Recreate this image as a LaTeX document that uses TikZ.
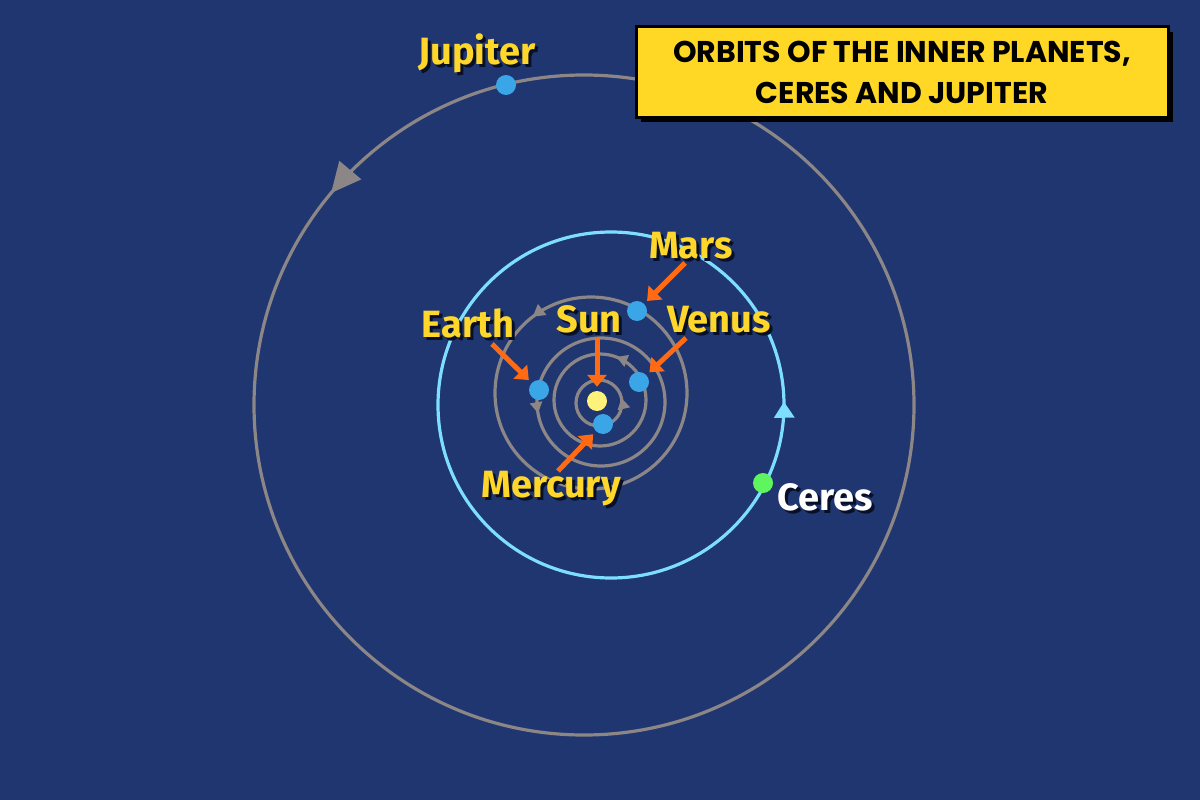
\documentclass[tikz,border=0pt]{standalone}
\usepackage{fontspec}
\setmainfont{Fira Sans}
\newfontfamily\titlefont{Poppins}
\usetikzlibrary{arrows.meta,decorations.markings,shadows}

\definecolor{spacebg}{RGB}{31,54,112}
\definecolor{orbitgray}{RGB}{140,134,134}
\definecolor{ceresorbit}{RGB}{125,222,255}
\definecolor{planetblue}{RGB}{58,166,232}
\definecolor{sunyellow}{RGB}{255,242,122}
\definecolor{ceresgreen}{RGB}{94,245,94}
\definecolor{labelyellow}{RGB}{255,214,42}
\definecolor{pointerorange}{RGB}{255,106,19}
\definecolor{txtshadow}{RGB}{8,16,40}
\definecolor{titleyellow}{RGB}{255,216,38}

\newcommand{\shadowtext}[1]{\rlap{\kern3pt\raisebox{-3pt}{\color{txtshadow}#1}}#1}

\begin{document}
\begin{tikzpicture}[
    x=1pt, y=-1pt,
    orbit/.style={draw=orbitgray, line width=3.2pt},
    orbitdir/.style n args={3}{postaction={decorate, decoration={markings,
        mark=at position #1 with {\arrowreversed{Triangle[length=#2pt, width=#3pt]}}}}},
    planet/.style={circle, fill=planetblue, minimum size=20pt, inner sep=0pt},
    planetlabel/.style={font=\fontsize{38}{44}\selectfont\bfseries, text=labelyellow, anchor=base, inner sep=0pt},
    pointer/.style={-{Triangle[length=12pt, width=19pt]}, line width=5pt, draw=pointerorange, shorten >=4pt},
    titlebox/.style={rectangle, fill=titleyellow, draw=black, line width=3pt, minimum width=532pt, minimum height=90pt,
        align=center, font=\titlefont\bfseries\fontsize{30}{41}\selectfont,
        drop shadow={shadow xshift=5pt, shadow yshift=-5pt, fill=black, opacity=1}}
]

% background
\useasboundingbox (0,0) rectangle (1200,800);
\fill[spacebg] (0,0) rectangle (1200,800);

% === Orbits ===
\draw[orbit, orbitdir={0.611}{30}{28}] (584,405) circle (330);
\draw[orbit, draw=ceresorbit, orbitdir={0.997}{16}{20}] (611,405) circle (173);
\draw[orbit, orbitdir={0.646}{12}{13}] (591,393) circle (96);
\draw[orbit, orbitdir={0.472}{11}{12}] (601,402) circle (64);
\draw[orbit, orbitdir={0.808}{11}{12}] (600,400) circle (46);
\draw[orbit, orbitdir={0.965}{11}{12}] (599,403) circle (23);

% === Bodies ===
\node[planet, fill=sunyellow] (sun) at (597,401) {};
\node[planet] (mercury) at (603,424) {};
\node[planet] (venus) at (639,382) {};
\node[planet] (earth) at (539,390) {};
\node[planet] (mars) at (637,311) {};
\node[planet, fill=ceresgreen] (ceres) at (763,483) {};
\node[planet] (jupiter) at (506,85) {};

% === Labels ===
\node[planetlabel] (jupiter-lbl) at (477,65) {\shadowtext{Jupiter}};
\node[planetlabel] (mars-lbl) at (691,258) {\shadowtext{Mars}};
\node[planetlabel] (sun-lbl) at (589,332) {\shadowtext{Sun}};
\node[planetlabel] (venus-lbl) at (719,332) {\shadowtext{Venus}};
\node[planetlabel] (earth-lbl) at (468,337) {\shadowtext{Earth}};
\node[planetlabel] (mercury-lbl) at (551,497) {\shadowtext{Mercury}};
\node[planetlabel, text=white] (ceres-lbl) at (825,510) {\shadowtext{Ceres}};

% === Pointers from labels to bodies ===
\coordinate (mars-tail) at (685,263);
\coordinate (sun-tail) at (597,337);
\coordinate (venus-tail) at (686,338);
\coordinate (earth-tail) at (492,344);
\coordinate (mercury-tail) at (558,471);
\draw[pointer] (mars-tail) -- (mars);
\draw[pointer] (sun-tail) -- (sun);
\draw[pointer] (venus-tail) -- (venus);
\draw[pointer] (earth-tail) -- (earth);
\draw[pointer] (mercury-tail) -- (mercury);

% === Title ===
\node[titlebox] (title) at (902,72) {ORBITS OF THE INNER PLANETS,\\CERES AND JUPITER};

\end{tikzpicture}
\end{document}
